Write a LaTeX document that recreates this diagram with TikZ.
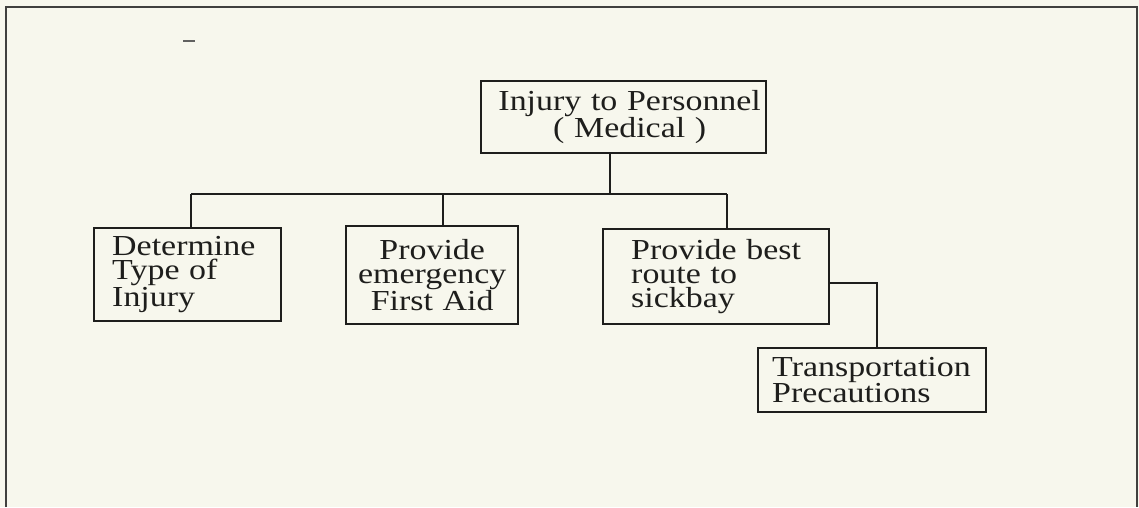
\documentclass[tikz,border=0pt]{standalone}
\usepackage{fontspec}
\setmainfont[FakeStretch=1.17]{Liberation Serif}
\definecolor{paper}{RGB}{247,247,237}
\definecolor{ink}{RGB}{30,30,28}
\begin{document}
\begin{tikzpicture}[x=1pt,y=-1pt,
  box/.style={draw=ink, line width=2.4pt, anchor=north west, inner ysep=0pt,
    font=\fontsize{29}{24}\selectfont, text=ink},
  conn/.style={draw=ink, line width=2.2pt},
  frame/.style={draw=ink!85, line width=2pt}]
\fill[paper] (0,0) rectangle (1139,507);
\useasboundingbox (0,0) rectangle (1139,507);
\draw[frame] (6,507) -- (6,7) -- (1137,7) -- (1137,507);
\draw[ink!70, line width=1.2pt] (183,41) -- (195,41);

\node[box, minimum width=285pt, minimum height=72pt, inner xsep=2pt, text width=281pt, align=center,
  font=\fontsize{29}{25.5}\selectfont]
  (top) at (480,80) {\mbox{\hspace*{12pt}Injury to Personnel}\\\mbox{\hspace*{12pt}( Medical )}};
\node[box, minimum width=187pt, minimum height=93pt, inner xsep=18pt, text width=151pt, align=left]
  (b1) at (93,227) {\mbox{Determine}\\\mbox{Type of}\\\mbox{Injury}};
\node[box, minimum width=172pt, minimum height=98pt, inner xsep=4pt, text width=164pt, align=center]
  (b2) at (345,225) {\mbox{Provide}\\\mbox{emergency}\\\mbox{First Aid}};
\node[box, minimum width=226pt, minimum height=95pt, inner xsep=28pt, text width=170pt, align=left]
  (b3) at (602,228) {\mbox{Provide best}\\\mbox{route to}\\\mbox{sickbay}};
\node[box, minimum width=228pt, minimum height=64pt, inner xsep=14pt, text width=200pt, align=left]
  (b4) at (757,347) {\mbox{Transportation}\\\mbox{Precautions}};

\coordinate (bus) at (610,194);
\coordinate (busL) at (191,194);
\coordinate (busM) at (443,194);
\coordinate (busR) at (727,194);
\coordinate (elbow) at (877,283);

\draw[conn] (bus |- top.south) -- (bus);
\draw[conn] (busL) -- (busR);
\draw[conn] (busL) -- (busL |- b1.north);
\draw[conn] (busM) -- (busM |- b2.north);
\draw[conn] (busR) -- (busR |- b3.north);
\draw[conn] (elbow -| b3.east) -- (elbow) -- (elbow |- b4.north);
\end{tikzpicture}
\end{document}
